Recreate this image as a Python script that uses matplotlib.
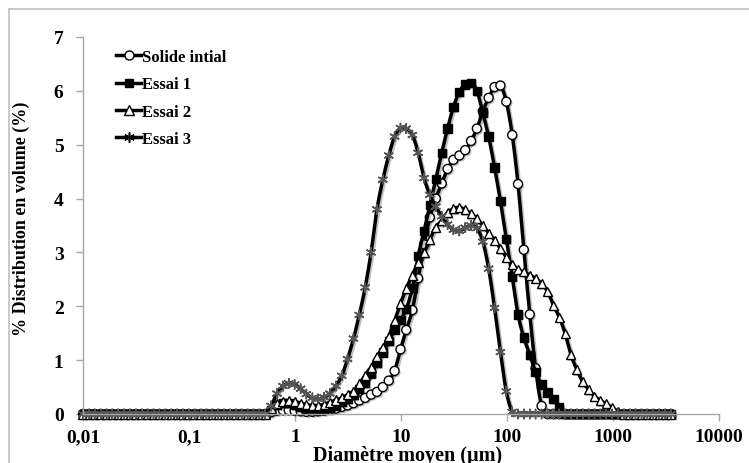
import numpy as np
import matplotlib
matplotlib.use('Agg')
import matplotlib.pyplot as plt
import matplotlib.patheffects as pe
from matplotlib.lines import Line2D

plt.rcParams['font.family'] = ['Liberation Serif', 'DejaVu Serif']
plt.rcParams['font.weight'] = 'bold'

# particle sizes (um), laser granulometer classes
diam = [0.0100, 0.0114, 0.0129, 0.0147, 0.0167, 0.0189, 0.0215, 0.0244, 0.0278, 0.0316,
        0.0359, 0.0407, 0.0463, 0.0526, 0.0598, 0.0679, 0.0771, 0.0877, 0.0996, 0.113,
        0.129, 0.146, 0.166, 0.189, 0.214, 0.244, 0.277, 0.314, 0.357, 0.406,
        0.461, 0.524, 0.595, 0.676, 0.769, 0.873, 0.992, 1.13, 1.28, 1.46,
        1.65, 1.88, 2.13, 2.43, 2.76, 3.13, 3.56, 4.04, 4.59, 5.22,
        5.93, 6.74, 7.66, 8.70, 9.89, 11.2, 12.8, 14.5, 16.5, 18.7,
        21.3, 24.2, 27.5, 31.2, 35.5, 40.3, 45.8, 52.0, 59.1, 67.1,
        76.3, 86.7, 98.5, 112, 127, 144, 164, 186, 212, 241,
        274, 311, 353, 401, 456, 518, 589, 669, 760, 863,
        981, 1110, 1270, 1440, 1630, 1860, 2110, 2400, 2720, 3100,
        3520]

solide = [0, 0, 0, 0, 0, 0, 0, 0, 0, 0,
          0, 0, 0, 0, 0, 0, 0, 0, 0, 0,
          0, 0, 0, 0, 0, 0, 0, 0, 0, 0,
          0, 0, 0.03, 0.06, 0.07, 0.07, 0.06, 0.05, 0.04, 0.04,
          0.05, 0.06, 0.08, 0.10, 0.13, 0.16, 0.20, 0.25, 0.30, 0.36,
          0.41, 0.50, 0.62, 0.80, 1.20, 1.56, 1.93, 2.52, 3.15, 3.65,
          4.00, 4.28, 4.55, 4.72, 4.80, 4.90, 5.07, 5.30, 5.62, 5.87,
          6.07, 6.10, 5.80, 5.18, 4.27, 3.05, 1.85, 0.85, 0.15, 0,
          0, 0, 0, 0, 0, 0, 0, 0, 0, 0,
          0, 0, 0, 0, 0, 0, 0, 0, 0, 0,
          0]

essai1 = [0, 0, 0, 0, 0, 0, 0, 0, 0, 0,
          0, 0, 0, 0, 0, 0, 0, 0, 0, 0,
          0, 0, 0, 0, 0, 0, 0, 0, 0, 0,
          0, 0, 0.08, 0.17, 0.20, 0.20, 0.17, 0.13, 0.10, 0.08,
          0.08, 0.09, 0.12, 0.16, 0.22, 0.28, 0.35, 0.46, 0.58, 0.75,
          0.95, 1.14, 1.35, 1.57, 1.75, 1.95, 2.34, 2.93, 3.40, 3.88,
          4.36, 4.85, 5.30, 5.70, 5.98, 6.12, 6.15, 6.00, 5.60, 5.15,
          4.58, 3.95, 3.25, 2.55, 1.85, 1.42, 1.10, 0.78, 0.55, 0.40,
          0.28, 0.12, 0, 0, 0, 0, 0, 0, 0, 0,
          0, 0, 0, 0, 0, 0, 0, 0, 0, 0,
          0]

essai2 = [0, 0, 0, 0, 0, 0, 0, 0, 0, 0,
          0, 0, 0, 0, 0, 0, 0, 0, 0, 0,
          0, 0, 0, 0, 0, 0, 0, 0, 0, 0,
          0, 0, 0.10, 0.20, 0.24, 0.25, 0.23, 0.20, 0.17, 0.16,
          0.16, 0.18, 0.22, 0.26, 0.30, 0.36, 0.42, 0.56, 0.72, 0.87,
          1.06, 1.23, 1.44, 1.73, 2.05, 2.33, 2.58, 2.82, 3.00, 3.24,
          3.47, 3.59, 3.74, 3.81, 3.84, 3.79, 3.72, 3.63, 3.50, 3.36,
          3.23, 3.07, 2.91, 2.78, 2.68, 2.64, 2.58, 2.52, 2.42, 2.28,
          2.02, 1.80, 1.50, 1.10, 0.82, 0.60, 0.45, 0.33, 0.25, 0.19,
          0.12, 0.05, 0, 0, 0, 0, 0, 0, 0, 0,
          0]

essai3 = [0, 0, 0, 0, 0, 0, 0, 0, 0, 0,
          0, 0, 0, 0, 0, 0, 0, 0, 0, 0,
          0, 0, 0, 0, 0, 0, 0, 0, 0, 0,
          0, 0, 0.15, 0.38, 0.52, 0.57, 0.55, 0.47, 0.37, 0.30,
          0.28, 0.31, 0.38, 0.52, 0.71, 1.02, 1.40, 1.84, 2.35, 3.00,
          3.80, 4.35, 4.80, 5.15, 5.31, 5.30, 5.18, 4.85, 4.38, 4.07,
          3.85, 3.67, 3.52, 3.42, 3.40, 3.46, 3.50, 3.45, 3.20, 2.70,
          1.97, 1.15, 0.42, 0.04, 0, 0, 0, 0, 0, 0,
          0, 0, 0, 0, 0, 0, 0, 0, 0, 0,
          0, 0, 0, 0, 0, 0, 0, 0, 0, 0,
          0]

labels = ['Solide intial', 'Essai 1', 'Essai 2', 'Essai 3']
xticks = [0.01, 0.1, 1, 10, 100, 1000, 10000]
xticklabels = ['0,01', '0,1', '1', '10', '100', '1000', '10000']


def smooth(x, y, n=10):
    # catmull-rom through the points, in log x space (like excel smoothed lines)
    u = np.log10(np.asarray(x, float))
    v = np.asarray(y, float)
    p = np.column_stack([u, v])
    p = np.vstack([p[0], p, p[-1]])
    t = np.linspace(0, 1, n, endpoint=False)[:, None]
    out = []
    for i in range(1, len(p) - 2):
        p0, p1, p2, p3 = p[i - 1], p[i], p[i + 1], p[i + 2]
        seg = 0.5 * ((2 * p1) + (-p0 + p2) * t + (2 * p0 - 5 * p1 + 4 * p2 - p3) * t ** 2
                     + (-p0 + 3 * p1 - 3 * p2 + p3) * t ** 3)
        out.append(seg)
    out.append(p[-2][None, :])
    out = np.vstack(out)
    return 10 ** out[:, 0], out[:, 1]


fig = plt.figure(figsize=(7.49, 4.64), dpi=100)
ax = fig.add_axes([83 / 749, 1 - 415 / 464, 636 / 749, 377 / 464])

styles = [
    dict(marker='o', mfc='white', mec='black', ms=6.5, mew=1.0),
    dict(marker='s', mfc='black', mec='black', ms=6.0, mew=1.0),
    dict(marker='^', mfc='white', mec='black', ms=6.5, mew=1.0),
    dict(marker=(6, 2, 0), mfc='#555555', mec='#555555', ms=7.5, mew=1.1),
]

line_fx = [pe.SimpleLineShadow(offset=(1.2, -1.2), shadow_color='black', alpha=0.25), pe.Normal()]
mark_fx = [pe.SimplePatchShadow(offset=(1.2, -1.2), shadow_rgbFace='black', alpha=0.25), pe.Normal()]

handles = []
for ys, lab, st in zip([solide, essai1, essai2, essai3], labels, styles):
    sx, sy = smooth(diam, ys)
    ax.plot(sx, sy, color='black', lw=2.5, clip_on=False, solid_capstyle='round',
            path_effects=line_fx)
    ax.plot(diam, ys, ls='none', clip_on=False, path_effects=mark_fx, **st)
    hst = dict(st)
    if lab == 'Essai 3':
        hst.update(mfc='black', mec='black')
    handles.append(Line2D([], [], color='black', lw=2.5, **hst))

ax.set_xscale('log')
ax.set_xlim(0.01, 10000)
ax.set_ylim(0, 7)
ax.set_xticks(xticks)
ax.set_xticklabels(xticklabels)
ax.minorticks_off()
ax.set_yticks(range(8))
ax.tick_params(axis='both', direction='out', length=5, width=1, color='#a6a6a6',
               labelsize=14)
ax.tick_params(axis='x', pad=5)
ax.tick_params(axis='y', pad=9)
for s in ['top', 'right']:
    ax.spines[s].set_visible(False)
for s in ['left', 'bottom']:
    ax.spines[s].set_color('#a6a6a6')
    ax.spines[s].set_linewidth(1)

ax.set_xlabel('Diamètre moyen (µm)', fontsize=14.5, fontweight='bold')
ax.xaxis.set_label_coords(0.51, -0.083)
ax.set_ylabel('% Distribution en volume (%)', fontsize=13, fontweight='bold')
ax.yaxis.set_label_coords(-0.083, 0.52)

fig.legend(handles, labels, loc='upper left', bbox_to_anchor=(116 / 749, 1 - 50 / 464),
           frameon=False, fontsize=12, handlelength=1.5, handletextpad=0.05,
           labelspacing=0.68, borderpad=0, borderaxespad=0, numpoints=1)

# chart area border (top and left edges visible)
fig.add_artist(Line2D([9 / 749, 9 / 749], [0, 1 - 10 / 464], color='#c0c0c0', lw=1.2))
fig.add_artist(Line2D([9 / 749, 1], [1 - 10 / 464, 1 - 10 / 464], color='#c0c0c0', lw=1.2))

fig.savefig('out.png', dpi=100)
